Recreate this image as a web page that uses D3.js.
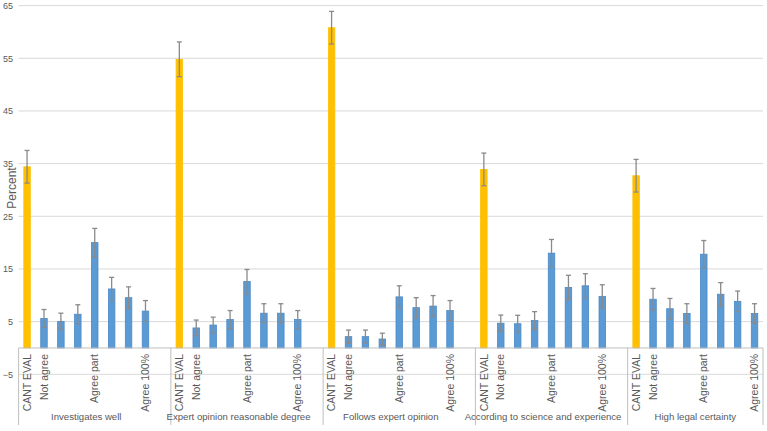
<!DOCTYPE html>
<html lang="en">
<head>
    <meta charset="UTF-8">
    <style>
        body { margin: 0; background: #fff; }
        svg text { font-family: "Liberation Sans", Arial, sans-serif; fill: #595959; }
    </style>
    <script src="https://d3js.org/d3.v7.min.js"></script>
    <title>Percent by group</title>
</head>
<body>
    <svg width="767" height="431"></svg>

    <script>
        // data
        var groups = ["Investigates well", "Expert opinion reasonable degree", "Follows expert opinion",
                      "According to science and experience", "High legal certainty"];
        var categories = ["CANT EVAL", "Not agree", "", "", "Agree part", "", "", "Agree 100%"];
        var values = [
            [34.4, 5.6, 5.05, 6.4, 20.0, 11.2, 9.55, 7.0],
            [54.8, 3.8, 4.35, 5.4, 12.6, 6.6, 6.6, 5.4],
            [60.8, 2.15, 2.15, 1.7, 9.7, 7.65, 7.95, 7.1],
            [33.9, 4.7, 4.6, 5.2, 18.0, 11.5, 11.8, 9.8],
            [32.7, 9.25, 7.45, 6.55, 17.8, 10.2, 8.85, 6.55]
        ];
        var errors = [
            [3.1, 1.7, 1.55, 1.8, 2.7, 2.2, 2.05, 2.0],
            [3.3, 1.5, 1.5, 1.7, 2.3, 1.8, 1.8, 1.7],
            [3.1, 1.25, 1.25, 1.1, 2.1, 1.9, 2.0, 1.9],
            [3.1, 1.55, 1.6, 1.7, 2.6, 2.3, 2.3, 2.2],
            [3.1, 2.05, 1.95, 1.85, 2.6, 2.2, 1.95, 1.85]
        ];
        var yTicks = [-5, 5, 15, 25, 35, 45, 55, 65];

        var svg = d3.select("svg");
        var left = 18.6, right = 763;

        // one slot per category, plus an empty spacer slot after each group but the last
        var slots = [];
        var bars = [];
        groups.forEach(function(g, gi) {
            categories.forEach(function(c, ci) {
                slots.push(gi + "-" + ci);
                bars.push({g: gi, c: ci, key: gi + "-" + ci, label: c,
                           value: values[gi][ci], err: errors[gi][ci]});
            });
            if (gi < groups.length - 1) slots.push(gi + "-gap");
        });

        var x = d3.scaleBand().domain(slots).range([left, right]);
        var y = d3.scaleLinear().domain([-5, 65]).range([374.3, 5.6]);
        var barW = 6.5;

        // gridlines
        svg.append("g")
           .selectAll("line")
           .data(yTicks)
           .enter().append("line")
           .attr("x1", left).attr("x2", right)
           .attr("y1", function(d) { return y(d); })
           .attr("y2", function(d) { return y(d); })
           .attr("stroke", "#d9d9d9")
           .attr("stroke-width", 1);

        // y axis labels
        var yAxis = svg.append("g")
           .attr("transform", "translate(13,0)")
           .call(d3.axisLeft(y).tickValues(yTicks).tickSize(0).tickPadding(0));
        yAxis.select(".domain").remove();
        yAxis.selectAll("text")
             .style("font-size", "9px")
             .style("font-family", "'Liberation Sans', Arial, sans-serif")
             .attr("fill", "#595959");

        svg.append("text")
           .attr("transform", "translate(15.5,188) rotate(-90)")
           .attr("text-anchor", "middle")
           .style("font-size", "12px")
           .text("Percent");

        // bars
        svg.append("g")
           .selectAll("rect")
           .data(bars)
           .enter().append("rect")
           .attr("x", function(d) { return x(d.key) + x.bandwidth() / 2 - barW / 2; })
           .attr("width", barW)
           .attr("y", function(d) { return y(d.value); })
           .attr("height", function(d) { return y(0) - y(d.value); })
           .attr("fill", function(d) { return d.c === 0 ? "#ffc000" : "#5b9bd5"; })
           .attr("stroke", function(d) { return d.c === 0 ? "#ffc000" : "#4a88c7"; })
           .attr("stroke-width", 0.8);

        // error bars
        var eb = svg.append("g")
           .attr("stroke", "#8a8a8a")
           .attr("stroke-width", 1.3)
           .selectAll("g")
           .data(bars)
           .enter().append("g")
           .attr("transform", function(d) { return "translate(" + (x(d.key) + x.bandwidth() / 2) + ",0)"; });

        eb.append("line")
          .attr("y1", function(d) { return y(d.value - d.err); })
          .attr("y2", function(d) { return y(d.value + d.err); });
        eb.append("line")
          .attr("x1", -2.5).attr("x2", 2.5)
          .attr("y1", function(d) { return y(d.value + d.err); })
          .attr("y2", function(d) { return y(d.value + d.err); });
        eb.append("line")
          .attr("x1", -2.5).attr("x2", 2.5)
          .attr("y1", function(d) { return y(d.value - d.err); })
          .attr("y2", function(d) { return y(d.value - d.err); });

        // category axis
        svg.append("line")
           .attr("x1", left).attr("x2", right)
           .attr("y1", y(0)).attr("y2", y(0))
           .attr("stroke", "#bfbfbf");

        var groupStarts = groups.map(function(g, gi) { return x(gi + "-0"); });
        groupStarts.push(right);
        svg.append("g")
           .selectAll("line")
           .data(groupStarts)
           .enter().append("line")
           .attr("x1", function(d) { return d; })
           .attr("x2", function(d) { return d; })
           .attr("y1", y(0)).attr("y2", 425)
           .attr("stroke", "#bfbfbf");

        svg.append("g")
           .selectAll("text")
           .data(bars.filter(function(d) { return d.label !== ""; }))
           .enter().append("text")
           .attr("transform", function(d) {
               return "translate(" + (x(d.key) + x.bandwidth() / 2) + "," + (y(0) + 6) + ") rotate(-90)";
           })
           .attr("text-anchor", "end")
           .attr("dy", "0.35em")
           .style("font-size", "10.5px")
           .text(function(d) { return d.label; });

        svg.append("g")
           .selectAll("text")
           .data(groups)
           .enter().append("text")
           .attr("x", function(d, i) { return (x(i + "-0") + x(i + "-7") + x.bandwidth()) / 2; })
           .attr("y", 420)
           .attr("text-anchor", "middle")
           .style("font-size", "9.6px")
           .text(function(d) { return d; });
    </script>
</body>
</html>
